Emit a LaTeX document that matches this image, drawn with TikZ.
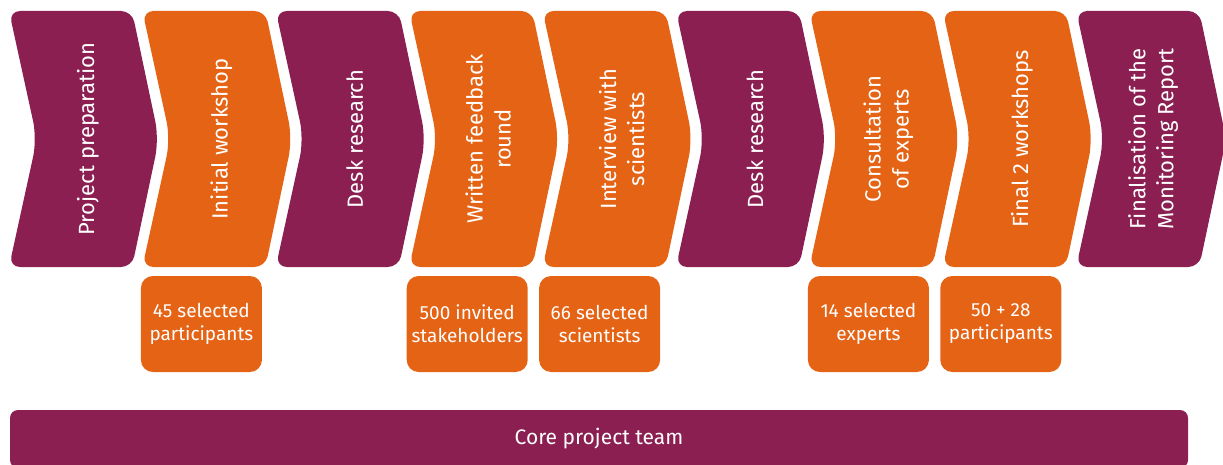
\documentclass[tikz,border=0pt]{standalone}
\usepackage{fontspec}
\setmainfont{Fira Sans}
\definecolor{plum}{RGB}{139,31,81}
\definecolor{tangerine}{RGB}{229,99,21}

\begin{document}
\begin{tikzpicture}[x=1pt,y=-1pt,
		phase/.style={text=white,rotate=90,align=center,font=\fontsize{22}{28}\selectfont},
		count/.style={fill=tangerine,text=white,rounded corners=12pt,minimum width=121pt,minimum height=96pt,align=center,font=\fontsize{19}{23}\selectfont}]
	\useasboundingbox (0,0) rectangle (1223,465);
	\def\pitch{133.4pt}
	\def\chevron#1#2{\fill[#2,rounded corners=11pt] (#1) -- ++(123,0) [rounded corners=18pt] -- ++(27,128) [rounded corners=11pt] -- ++(-27,128) -- ++(-123,0) [rounded corners=18pt] -- ++(28,-128) [rounded corners=11pt] -- cycle;}
	\coordinate (chi) at (9,11);
	\coordinate[xshift=\pitch] (chii) at (chi);
	\coordinate[xshift=2*\pitch] (chiii) at (chi);
	\coordinate[xshift=3*\pitch] (chiv) at (chi);
	\coordinate[xshift=4*\pitch] (chv) at (chi);
	\coordinate[xshift=5*\pitch] (chvi) at (chi);
	\coordinate[xshift=6*\pitch] (chvii) at (chi);
	\coordinate[xshift=7*\pitch] (chviii) at (chi);
	\coordinate[xshift=8*\pitch] (chix) at (chi);
	\chevron{chi}{plum}
	\chevron{chii}{tangerine}
	\chevron{chiii}{plum}
	\chevron{chiv}{tangerine}
	\chevron{chv}{tangerine}
	\chevron{chvi}{plum}
	\chevron{chvii}{tangerine}
	\chevron{chviii}{tangerine}
	\chevron{chix}{plum}
	
	\node[phase] (prep) at ([shift={(79,128)}]chi) {Project preparation};
	\node[phase] (initial) at ([shift={(79,128)}]chii) {Initial workshop};
	\node[phase] (deski) at ([shift={(79,128)}]chiii) {Desk research};
	\node[phase] (written) at ([shift={(79,128)}]chiv) {Written feedback\\round};
	\node[phase] (interview) at ([shift={(79,128)}]chv) {Interview with\\scientists};
	\node[phase] (deskii) at ([shift={(79,128)}]chvi) {Desk research};
	\node[phase] (consult) at ([shift={(79,128)}]chvii) {Consultation\\of experts};
	\node[phase] (final) at ([shift={(79,128)}]chviii) {Final 2 workshops};
	\node[phase] (report) at ([shift={(77,128)}]chix) {Finalisation of the\\Monitoring Report};
	
	\node[count] (partsi) at ([shift={(59,313)}]chii) {45 selected\\participants};
	\node[count] (stakes) at ([shift={(58,313)}]chiv) {500 invited\\stakeholders};
	\node[count] (scient) at ([shift={(57,313)}]chv) {66 selected\\scientists};
	\node[count] (experts) at ([shift={(59,313)}]chvii) {14 selected\\experts};
	\node[count] (partsii) at ([shift={(58,313)}]chviii) {50 + 28\\participants};
	
	\node[fill=plum,text=white,rounded corners=8pt,minimum width=1178pt,minimum height=58pt,font=\fontsize{21}{25}\selectfont] (core) at (599,439) {Core project team};
\end{tikzpicture}
\end{document}
